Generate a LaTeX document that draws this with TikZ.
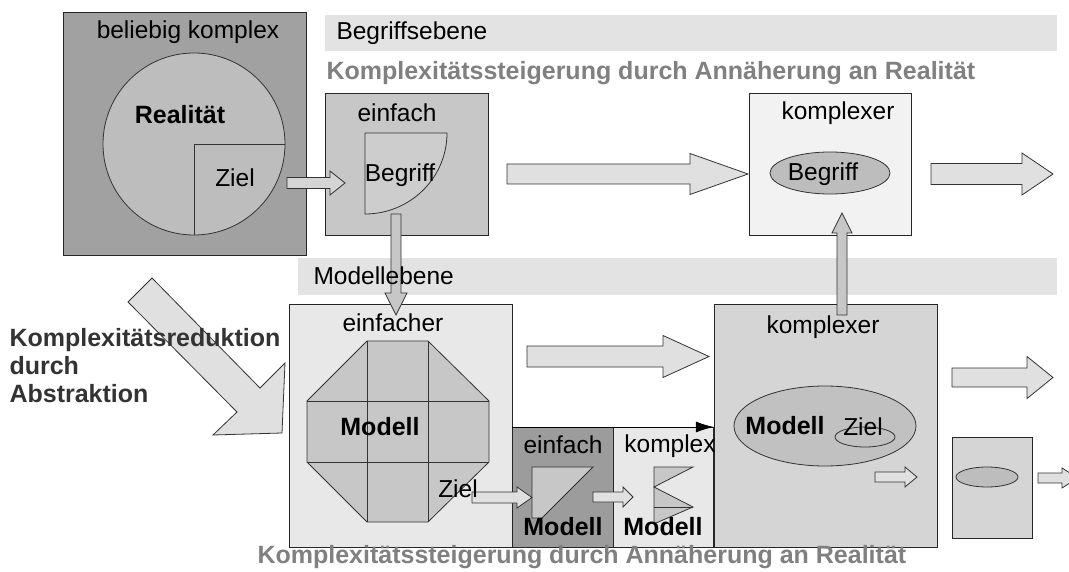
\documentclass[tikz,border=0pt]{standalone}
\usepackage{fontspec}
\setmainfont{Liberation Sans}
\usetikzlibrary{arrows.meta,calc}
\definecolor{dark}{gray}{0.63}
\definecolor{mid}{gray}{0.78}
\definecolor{light}{gray}{0.88}
\definecolor{pale}{gray}{0.91}
\definecolor{paler}{gray}{0.95}
\definecolor{bar}{gray}{0.89}
\definecolor{txtgrey}{gray}{0.5}
% block arrows: [fill]{tail}{head base}{tip}{axis}{shaft half}{head half}
\newcommand{\rarr}[7][light]{%
  \draw[blk,fill=#1] (#2,#5-#6) -- (#3,#5-#6) -- (#3,#5-#7) -- (#4,#5)
    -- (#3,#5+#7) -- (#3,#5+#6) -- (#2,#5+#6) -- cycle;}
\newcommand{\varr}[7][mid]{%
  \draw[blk,fill=#1] (#2-#6,#3) -- (#2-#6,#4) -- (#2-#7,#4) -- (#2,#5)
    -- (#2+#7,#4) -- (#2+#6,#4) -- (#2+#6,#3) -- cycle;}

\begin{document}
\begin{tikzpicture}[x=1pt,y=-1pt,
    box/.style={draw=black!85,line width=0.9pt,inner sep=0pt,anchor=north west},
    blk/.style={draw=black!80,line width=0.8pt},
    lbl/.style={font=\fontsize{24.5}{28}\selectfont},
    bold/.style={font=\fontsize{25}{28}\selectfont\bfseries},
    greybold/.style={font=\fontsize{25}{28}\selectfont\bfseries,text=txtgrey}]
  \clip (0,0) rectangle (1069,572);
  \fill[white] (0,0) rectangle (1069,572);
  % ebenen
  \fill[bar] (325,15) rectangle (1057,51);
  \fill[bar] (298,258) rectangle (1057,295);
  % realitaet
  \node[box,fill=dark,minimum width=243,minimum height=243] (real) at (63,12) {};
  \draw[blk,fill=mid!95!black] (194,144) circle (91);
  \draw[blk] (194,235) -- (194,144) -- (285,144);
  % begriffsebene
  \node[box,fill=mid,minimum width=163,minimum height=142] (begrE) at (325,93) {};
  \draw[blk,fill=mid!90!white] (365,133) -- (447,133) .. controls (447,178) and (410,214) .. (365,214) -- cycle;
  \node[box,fill=paler,minimum width=162,minimum height=142] (begrK) at (749,93) {};
  \draw[blk,fill=mid!95!black] (830,173) ellipse (60 and 21);
  % modellebene
  \node[box,fill=pale,minimum width=223,minimum height=243] (modE) at (289,304) {};
  \draw[blk,fill=mid] (367,341) -- (428,341) -- (489,401) -- (489,462) -- (428,522)
    -- (367,522) -- (307,462) -- (307,401) -- cycle;
  \draw[blk] (367,341) -- (367,522) (428,341) -- (428,522)
    (307,401) -- (489,401) (307,462) -- (489,462);
  \node[box,fill=dark!105!white,minimum width=101,minimum height=120] (einfM) at (512,427) {};
  \draw[blk,fill=mid] (532,467) -- (593,467) -- (542,518) -- (532,518) -- cycle;
  \node[box,fill=pale,minimum width=100,minimum height=120] (kompM) at (613,427) {};
  \draw[blk,fill=mid] (654,467) -- (693,467) -- (654,487) -- (693,507) -- (656,523) -- (654,523) -- cycle;
  \draw[blk] (654,507) -- (693,507);
  \node[box,fill=light!95!black,minimum width=223,minimum height=243] (modK) at (714,304) {};
  \draw[blk,fill=mid!97!black] (825,426) ellipse (91 and 40);
  \draw[blk] (865,437) ellipse (30 and 10);
  \node[box,fill=light!95!black,minimum width=80,minimum height=101] (weiter) at (952,437) {};
  \draw[blk,fill=mid!95!black] (987,477) ellipse (31 and 10);
  \draw[line width=0.9pt,-{Latex[length=18pt,width=11pt]}] (einfM.north west) -- (kompM.north east);
  % pfeile
  \draw[blk,fill=light] (152,278) -- (260,388) -- (285,363) -- (282,433) -- (213,435)
    -- (237,412) -- (128,302) -- cycle;
  \rarr[light!95!black]{287}{330}{345}{183}{5.5}{12}
  \rarr{507}{690}{748}{174}{10}{20.5}
  \rarr{931}{1022}{1053}{174}{10.5}{21}
  \varr{396}{214}{293}{315}{5}{11}
  \varr{842}{315}{233}{213}{5}{10}
  \rarr{472}{517}{532}{497.5}{5.5}{10.5}
  \rarr{593}{623}{633}{497}{5}{10}
  \rarr{527}{663}{709}{356.5}{10.5}{21}
  \rarr{875}{905}{917}{477}{5}{10}
  \rarr{952}{1027}{1053}{377.5}{9.5}{21}
  \rarr{1038}{1062}{1078}{478}{5}{10}
  % texte
  \node[lbl] (tBel) at (188,32) {beliebig komplex};
  \node[bold] (tReal) at (180,115) {Realität};
  \node[lbl] (tZiel) at (235,178) {Ziel};
  \node[lbl,anchor=west] (tBegrEb) at (333,33) {Begriffsebene};
  \node[greybold,anchor=west] (tSteigO) at (323,73) {Komplexitätssteigerung durch Annäherung an Realität};
  \node[lbl] (tEinf) at (397,113) {einfach};
  \node[lbl] (tBegr) at (400,175) {Begriff};
  \node[lbl] (tKomp) at (838,113) {komplexer};
  \node[lbl] (tBegrK) at (823,174) {Begriff};
  \node[lbl,anchor=west] (tModEb) at (310,276) {Modellebene};
  \node[bold,align=left,anchor=west,text=black!80] (tRed) at (6,366) {Komplexitätsreduktion\\durch\\Abstraktion};
  \node[lbl] (tEinfM) at (393,323) {einfacher};
  \node[bold] (tMod) at (380,427) {Modell};
  \node[lbl] (tZielM) at (458,489) {Ziel};
  \node[lbl] (tEinfach) at (563,445) {einfach};
  \node[bold] (tMod2) at (563,527) {Modell};
  \node[lbl] (tKompl) at (670,446) {komplex};
  \node[bold] (tMod3) at (663,527) {Modell};
  \node[lbl] (tKompM) at (823,327) {komplexer};
  \node[bold] (tMod4) at (785,426) {Modell};
  \node[lbl] (tZiel4) at (863,427) {Ziel};
  \node[greybold,anchor=west] (tSteigU) at (254,557) {Komplexitätssteigerung durch Annäherung an Realität};
\end{tikzpicture}
\end{document}
